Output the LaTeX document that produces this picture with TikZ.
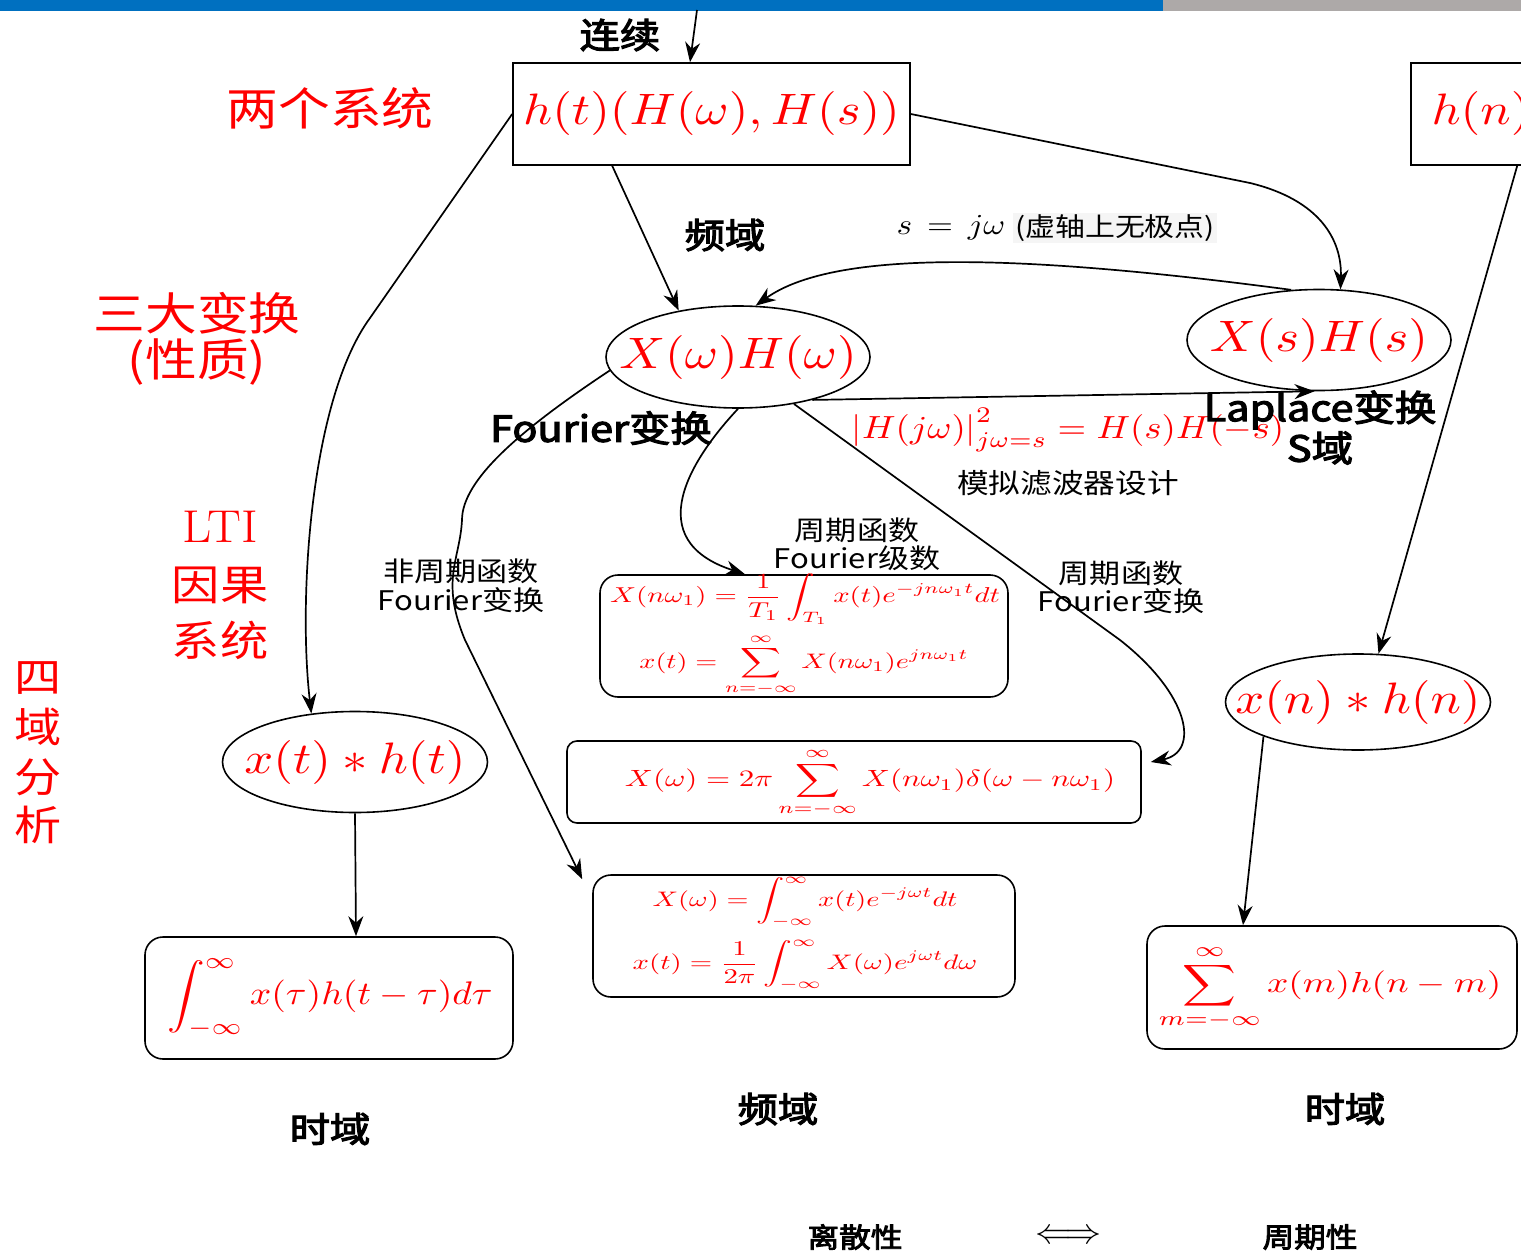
\documentclass[tikz,border=0pt]{standalone}
\usepackage{amsmath}
\usepackage{graphicx}
\usepackage{fontspec}
\usetikzlibrary{arrows.meta,calc,shapes.geometric}
\newfontfamily\cjk{Noto Sans CJK SC}
\newfontfamily\cjkb{Noto Sans CJK SC}[FakeBold=3]
\newcommand{\mfs}[1]{\fontsize{#1}{#1}\selectfont}
\newcommand{\mth}[2]{\scalebox{\fpeval{1.15*#1}}[#1]{#2}}
\newcommand{\mxy}[3]{\scalebox{#1}[#2]{#3}}
\newcommand{\cx}[2]{\scalebox{1.15}[1]{\cjk\mfs{#1}#2}}
\newcommand{\cxb}[2]{\scalebox{1.15}[1]{\cjkb\mfs{#1}#2}}
\definecolor{barblue}{HTML}{0070C0}
\definecolor{bargray}{HTML}{ADA9A8}
\tikzset{
  conn/.style={line width=1.7pt, -{Stealth[length=20pt,width=15pt]}},
  ell/.style={draw, ellipse, line width=1.6pt, inner sep=0pt},
  sqbox/.style={draw, rectangle, line width=1.6pt, inner sep=0pt, text=red},
  rbox/.style={draw, rectangle, rounded corners=18pt, line width=1.6pt, inner sep=0pt},
  redlbl/.style={inner sep=0pt, text=red},
  mlbl/.style={inner sep=0pt, text=red},
  blbl/.style={inner sep=0pt, text=black},
}
\begin{document}
\begin{tikzpicture}[x=1pt,y=-1pt]
\useasboundingbox (0,0) rectangle (1521,1252);
\clip (0,0) rectangle (1521,1252);
\fill[barblue] (0,0) rectangle (1163,11);
\fill[bargray] (1163,0) rectangle (1521,11);

% boxes and ellipses
\node[sqbox, minimum width=397pt, minimum height=102pt] (top) at (711.5,114) {\mth{4.4}{$h(t)(H(\omega),H(s))$}};
\node[sqbox, minimum width=140pt, minimum height=102pt] (hn) at (1481,114) {\mth{4.4}{$h(n)$}};
\node[ell, minimum width=264pt, minimum height=102pt] (XwHw) at (738,357) {};
\node[mlbl] (XwHwt) at (738,357) {\mth{4.4}{$X(\omega)H(\omega)$}};
\node[ell, minimum width=264pt, minimum height=101pt] (XsHs) at (1319,340) {};
\node[mlbl] (XsHst) at (1319,340) {\mth{4.4}{$X(s)H(s)$}};
\node[ell, minimum width=265pt, minimum height=101pt] (xtht) at (355,762) {};
\node[mlbl] (xthtt) at (355,762) {\mth{4.4}{$x(t)*h(t)$}};
\node[ell, minimum width=265pt, minimum height=96pt] (xnhn) at (1358,702) {};
\node[mlbl] (xnhnt) at (1358,702) {\mth{4.4}{$x(n)*h(n)$}};

\node[rbox, minimum width=408pt, minimum height=122pt] (FS) at (804,636) {};
\node[mlbl] (FS1) at (805,599) {\mxy{2.875}{2.15}{$\displaystyle X(n\omega_1)=\frac{1}{T_1}\int_{T_1}x(t)e^{-jn\omega_1 t}dt$}};
\node[mlbl] (FS2) at (804,665) {\mxy{2.82}{2.1}{$\displaystyle x(t)=\sum_{n=-\infty}^{\infty}X(n\omega_1)e^{jn\omega_1 t}$}};
\node[rbox, rounded corners=10pt, minimum width=574pt, minimum height=82pt] (pi) at (854,782) {};
\node[mlbl] (pi1) at (870,783) {\mxy{3.1}{2.35}{$\displaystyle X(\omega)=2\pi\sum_{n=-\infty}^{\infty}X(n\omega_1)\delta(\omega-n\omega_1)$}};
\node[rbox, minimum width=422pt, minimum height=122pt] (FT) at (804,936) {};
\node[mlbl] (FT1) at (805,902) {\mxy{2.82}{2.1}{$\displaystyle X(\omega)=\int_{-\infty}^{\infty}x(t)e^{-j\omega t}dt$}};
\node[mlbl] (FT2) at (805,965) {\mxy{2.875}{2.1}{$\displaystyle x(t)=\frac{1}{2\pi}\int_{-\infty}^{\infty}X(\omega)e^{j\omega t}d\omega$}};
\node[rbox, minimum width=368pt, minimum height=122pt] (conv) at (329,998) {};
\node[mlbl] (conv1) at (330,998) {\mth{3.27}{$\displaystyle\int_{-\infty}^{\infty}x(\tau)h(t-\tau)d\tau$}};
\node[rbox, minimum width=370pt, minimum height=123pt] (sum) at (1332,987.5) {};
\node[mlbl] (sum1) at (1330,988) {\mxy{3.73}{2.9}{$\displaystyle\sum_{m=-\infty}^{\infty}x(m)h(n-m)$}};

% red side labels
\node[redlbl] (l2sys) at (330,108) {\cx{45}{两个系统}};
\node[redlbl] (l3tr) at (197,313) {\cx{45}{三大变换}};
\node[redlbl] (l3tr2) at (197,362) {\cx{45}{(性质)}};
\node[redlbl] (llti) at (220,527) {\scalebox{1.1}[1]{\mfs{46}LTI}};
\node[redlbl] (lcaus) at (220,585) {\cx{42}{因果}};
\node[redlbl] (lsys) at (220,640) {\cx{42}{系统}};
\node[redlbl] (l4a) at (38,678) {\cx{41}{四}};
\node[redlbl] (l4b) at (38,727) {\cx{41}{域}};
\node[redlbl] (l4c) at (38,777) {\cx{41}{分}};
\node[redlbl] (l4d) at (38,825) {\cx{41}{析}};
\node[mlbl] (lHjw) at (1068,430) {\mth{3.2}{$\left|H(j\omega)\right|^2_{j\omega=s}=H(s)H(-s)$}};

% black labels
\node[blbl] (llx) at (620,35) {\cxb{35}{连续}};
\node[blbl] (lfreq1) at (725,235) {\cxb{35}{频域}};
\node[blbl] (lsjw) at (951,228) {\mth{2.9}{$s\,=\,j\omega$}};
\node[blbl, fill=black!4, inner sep=2pt] (lxu) at (1115,228) {\cx{26}{(虚轴上无极点)}};
\node[blbl] (lfour) at (601,428) {\cxb{36}{Fourier变换}};
\node[blbl] (llap) at (1320,410) {\cxb{36}{Laplace变换}};
\node[blbl] (lsdom) at (1320,448) {\cxb{36}{S域}};
\node[blbl] (lfilt) at (1068,483) {\cx{27.5}{模拟滤波器设计}};
\node[blbl] (lfs) at (857,530) {\cx{27}{周期函数}};
\node[blbl] (lfs2) at (857,558) {\cx{27}{Fourier级数}};
\node[blbl] (lnp) at (461,571) {\cx{27}{非周期函数}};
\node[blbl] (lnp2) at (461,600) {\cx{27}{Fourier变换}};
\node[blbl] (lpf) at (1121,573) {\cx{27}{周期函数}};
\node[blbl] (lpf2) at (1121,601) {\cx{27}{Fourier变换}};
\node[blbl] (lt1) at (330,1129) {\cxb{35}{时域}};
\node[blbl] (lf2) at (778,1109) {\cxb{35}{频域}};
\node[blbl] (lt2) at (1345,1109) {\cxb{35}{时域}};
\node[blbl] (ldis) at (855,1237) {\cxb{27.5}{离散性}};
\node[blbl] (liff) at (1068,1237) {\scalebox{3.6}{$\Longleftrightarrow$}};
\node[blbl] (lper) at (1310,1237) {\cxb{27.5}{周期性}};

% connectors
\coordinate (in1) at (697,10);
\draw[conn] (in1) -- ($(top.north)+(-21.5,0)$);
\draw[conn] (top.west) -- (370,318) .. controls (310,400) and (298,600) .. (xtht.132);
\draw[conn] ($(top.south west)+(100,0)$) -- (XwHw.142);
\draw[conn] (top.east) -- (1250,183) .. controls (1320,200) and (1342,240) .. (XsHs.67);
\draw[conn] (XsHs.119) .. controls (1050,258) and (840,245) .. (XwHw.71);
\draw[conn] (XwHw.-30) -- (XsHs.265);
\draw[conn] (XwHw.south) .. controls (690,460) and (640,540) .. ($(FS.north)+(-59,0)$);
\draw[conn] (XwHw.186) .. controls (520,430) and (462,480) .. (462,520) .. controls (460,560) and (440,580) .. (465,640) -- ($(FT.north west)+(-10,5)$);
\draw[conn] (XwHw.-40) -- (1120,640) .. controls (1190,695) and (1200,752) .. ($(pi.east)+(9,-20)$);
\draw[conn] ($(hn.south west)+(107,0)$) -- (xnhn.67);
\draw[conn] (xnhn.200) -- ($(sum.north)+(-89,0)$);
\draw[conn] (xtht.south) -- ($(conv.north)+(27,0)$);
\end{tikzpicture}
\end{document}
